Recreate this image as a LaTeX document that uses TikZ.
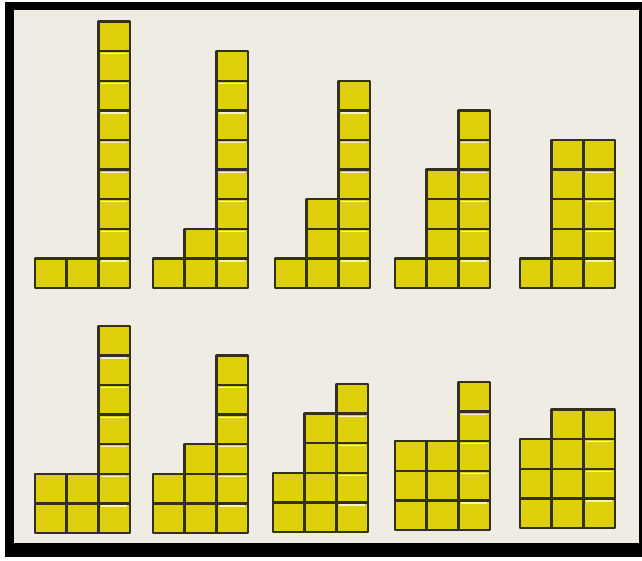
\documentclass[tikz,border=0pt]{standalone}
\usepackage{xcolor}
\definecolor{BoardBeige}{RGB}{239,236,228}
\definecolor{TileYellow}{RGB}{221,208,10}
\definecolor{TileEdge}{RGB}{52,48,32}
\usepackage{tikz}
\usetikzlibrary{calc}

\begin{document}
\begin{tikzpicture}[x=0.03cm,y=-0.03cm,
  tile/.style={fill=TileYellow,draw=TileEdge,line width=2.2pt,line join=round},
  shine/.style={draw=white,opacity=0.75,line width=0.9pt}]
\useasboundingbox (0,0) rectangle (642,561);
\fill[white] (0,0) rectangle (642,561);
\fill[black] (5,2) rectangle (642,557);
\fill[BoardBeige] (14,10) rectangle (639,543);
\foreach \fx/\fy/\ha/\hb/\hc in {35/288/1/1/9,153/288/1/2/8,275/288/1/3/7,395/288/1/4/6,520/288/1/5/5,
  35/533/2/2/7,153/533/2/3/6,273/532/2/4/5,395/530/3/3/5,520/528/3/4/4}{
  \foreach \c/\h in {0/\ha,1/\hb,2/\hc}{
    \foreach \r in {1,...,\h}{
      \draw[tile] (\fx+\c*31.7,\fy-\r*29.6+29.6) rectangle ++(31.7,-29.6);
    }
  }
  \foreach \r in {1,...,\hc}{
    \ifnum\r<\hc
      \draw[shine] (\fx+2*31.7+2.8,\fy-\r*29.6+2.6) -- ++(26.1,0);
    \fi
  }
}
\end{tikzpicture}
\end{document}
